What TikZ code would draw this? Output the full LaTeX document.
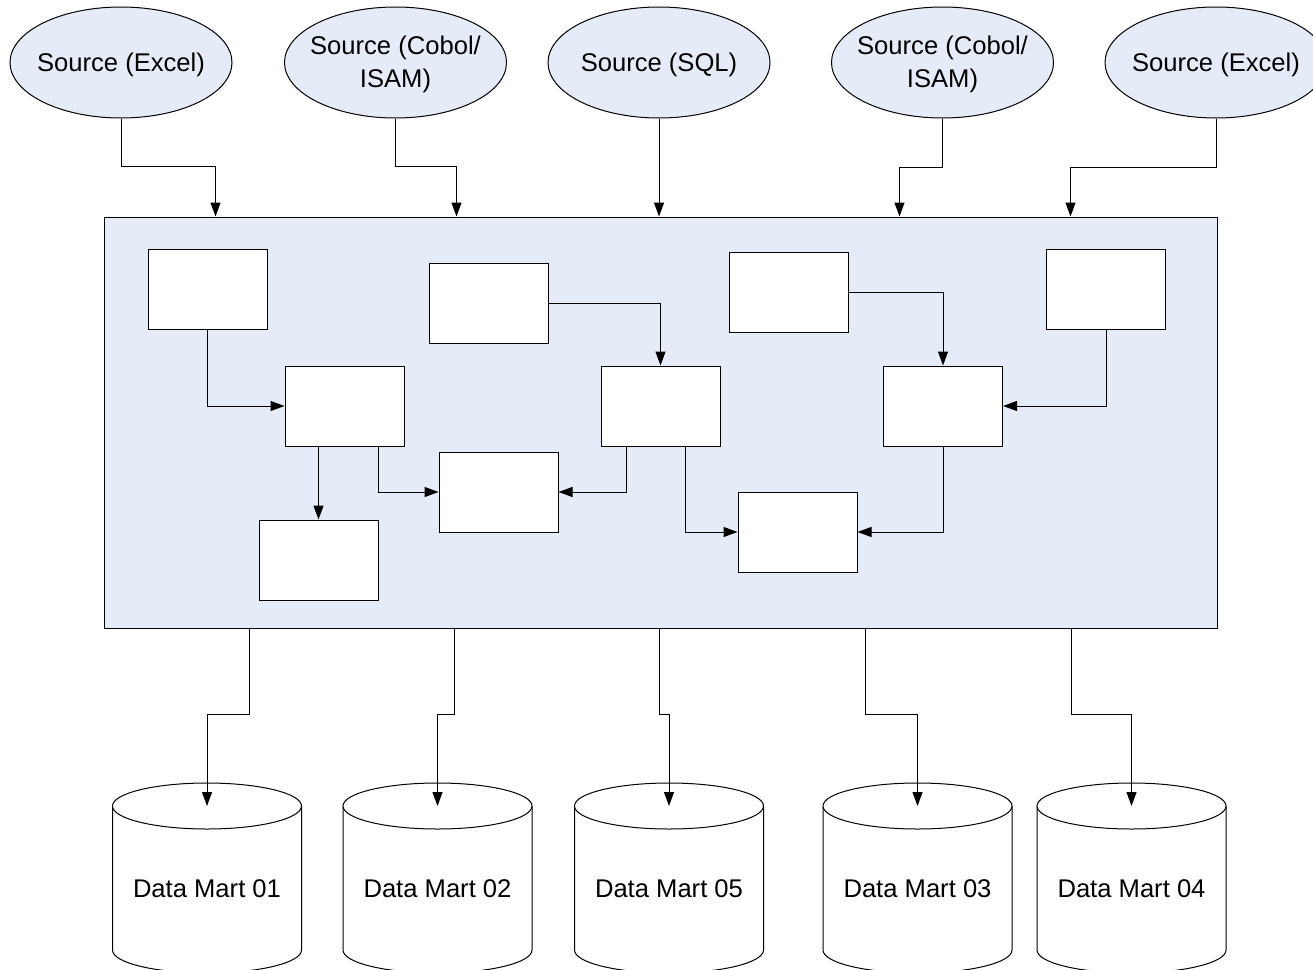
\documentclass[tikz,border=0pt]{standalone}
\usepackage{fontspec}
\setmainfont{Liberation Sans}
\usetikzlibrary{shapes.geometric,arrows.meta}
\definecolor{paleblue}{HTML}{E6ECF7}
\tikzset{
  wire/.style={draw=black, line width=1pt},
  arr/.style={wire, -{Triangle[length=14pt,width=10pt]}},
  source/.style={ellipse, wire, fill=paleblue, minimum width=222pt, minimum height=111pt,
                 inner sep=0pt},
  stage/.style={rectangle, wire, fill=white, minimum width=119pt, minimum height=80pt, inner sep=0pt},
  lbl/.style={font=\fontsize{25.6}{32.5}\selectfont, inner sep=0pt, align=center}
}
% source oval with its caption: #1 name, #2 centre x, #3 caption
\newcommand{\sourceoval}[3]{%
  \node[source] (#1) at (#2,62.5) {};
  \node[lbl] (#1txt) at ([yshift=-2pt]#1.center) {#3};
}
% database cylinder: #1 name, #2 centre x, #3 label
\newcommand{\datamart}[3]{%
  \draw[wire, fill=white] (#2-94.5,806) -- (#2-94.5,950)
     arc[start angle=180, end angle=0, x radius=94.5, y radius=23] -- (#2+94.5,806);
  \draw[wire, fill=white] (#2,806) ellipse [x radius=94.5, y radius=23];
  \coordinate (#1top) at (#2,806);
  \node[lbl] (#1) at (#2,889) {#3};
}
\begin{document}
\begin{tikzpicture}[x=1pt, y=-1pt]
\useasboundingbox (0,0) rectangle (1313,969);
\clip (0,0) rectangle (1313,969);

% sources
\sourceoval{src1}{121}{Source (Excel)}
\sourceoval{src2}{395.5}{Source (Cobol/\\ISAM)}
\sourceoval{src3}{659}{Source (SQL)}
\sourceoval{src4}{942.5}{Source (Cobol/\\ISAM)}
\sourceoval{src5}{1216}{Source (Excel)}

% ETL area
\node[rectangle, wire, fill=paleblue, minimum width=1113pt, minimum height=411pt, inner sep=0pt]
  (etl) at (660.5,422.5) {};

% processing steps
\node[stage] (sA) at (207.5,289)  {};
\node[stage] (sB) at (489,303.5)  {};
\node[stage] (sC) at (789,292)    {};
\node[stage] (sD) at (1106,289)   {};
\node[stage] (sE) at (344.5,406)  {};
\node[stage] (sF) at (660.5,406)  {};
\node[stage] (sG) at (943,406)    {};
\node[stage] (sH) at (498.5,492)  {};
\node[stage] (sI) at (318.5,560)  {};
\node[stage] (sJ) at (797.5,532)  {};

% sources into ETL area
\draw[arr] (src1.south) -- ++(0,48) -| ([xshift=112pt]etl.north west);
\draw[arr] (src2.south) -- ++(0,48) -| ([xshift=353pt]etl.north west);
\draw[arr] (src3.south) -- (src3.south |- etl.north);
\draw[arr] (src4.south) -- ++(0,49) -| ([xshift=796pt]etl.north west);
\draw[arr] (src5.south) -- ++(0,49) -| ([xshift=967pt]etl.north west);

% flows between steps
\draw[arr] (sA.south) |- (sE.west);
\draw[arr] (sB.east) -| (sF.north);
\draw[arr] (sC.east) -| (sG.north);
\draw[arr] (sD.south) |- (sG.east);
\draw[arr] (sE.south -| sI.north) -- (sI.north);
\draw[arr] (sE.south -| sI.north east) |- (sH.west);
\draw[arr] ([xshift=26pt]sF.south west) |- (sH.east);
\draw[arr] ([xshift=85pt]sF.south west) |- (sJ.west);
\draw[arr] (sG.south) |- (sJ.east);

% data marts
\datamart{dm1}{207}{Data Mart 01}
\datamart{dm2}{437.5}{Data Mart 02}
\datamart{dm5}{669}{Data Mart 05}
\datamart{dm3}{917.5}{Data Mart 03}
\datamart{dm4}{1131.5}{Data Mart 04}

% ETL area out to data marts
\draw[arr] ([xshift=146pt]etl.south west) -- ++(0,86) -| (dm1top);
\draw[arr] ([xshift=351pt]etl.south west) -- ++(0,86) -| (dm2top);
\draw[arr] ([xshift=556pt]etl.south west) -- ++(0,86) -| (dm5top);
\draw[arr] ([xshift=762pt]etl.south west) -- ++(0,86) -| (dm3top);
\draw[arr] ([xshift=968pt]etl.south west) -- ++(0,86) -| (dm4top);
\end{tikzpicture}
\end{document}
